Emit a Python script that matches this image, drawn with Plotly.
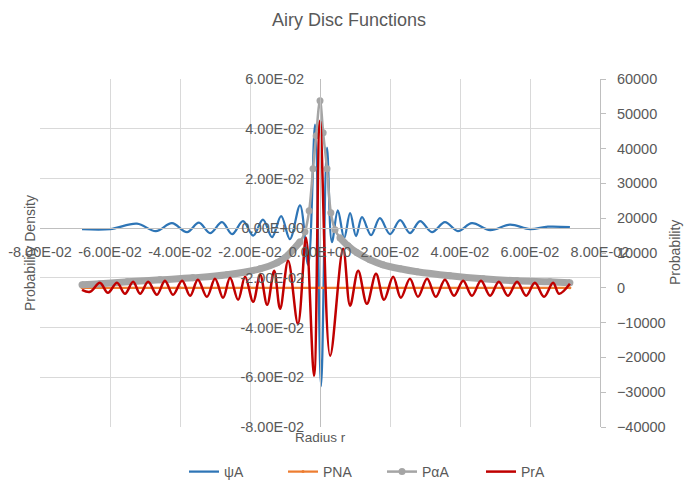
import plotly.graph_objects as go
import numpy as np

# ---------------- data ----------------
# psi_A : primary axis (probability density)
x_psi = [-0.0680, -0.0600, -0.0523, -0.0469, -0.0423, -0.0380, -0.0346, -0.0314,
         -0.0280, -0.0251, -0.0220, -0.0191, -0.0163, -0.0137, -0.0111, -0.0086,
         -0.0057, -0.0034, -0.0014, 0.0003, 0.0020, 0.0034, 0.0051, 0.0069,
         0.0086, 0.0103, 0.0120, 0.0146, 0.0171, 0.0200, 0.0229, 0.0257,
         0.0286, 0.0320, 0.0357, 0.0394, 0.0434, 0.0486, 0.0543, 0.0600,
         0.0651, 0.0714]
psi_A = [-0.0004, -0.0004, 0.0018, -0.0012, 0.0020, -0.0016, 0.0022, -0.0020,
         0.0024, -0.0024, 0.0028, -0.0030, 0.0034, -0.0036, 0.0048, -0.0044,
         0.0092, -0.0148, 0.0416, -0.0636, 0.0324, -0.0056, 0.0072, -0.0040,
         0.0060, -0.0032, 0.0044, -0.0028, 0.0040, -0.0024, 0.0032, -0.0020,
         0.0028, -0.0016, 0.0024, -0.0012, 0.0020, -0.0008, 0.0014, -0.0004,
         0.0006, 0.0004]

# P_rA : secondary axis
x_pr = [-0.0680, -0.0657, -0.0629, -0.0606, -0.0580, -0.0557, -0.0534, -0.0514,
        -0.0491, -0.0466, -0.0443, -0.0420, -0.0394, -0.0371, -0.0349, -0.0323,
        -0.0300, -0.0277, -0.0257, -0.0234, -0.0214, -0.0191, -0.0171, -0.0151,
        -0.0131, -0.0114, -0.0091, -0.0063, -0.0040, -0.0017, 0.0000, 0.0029,
        0.0066, 0.0086, 0.0109, 0.0134, 0.0160, 0.0183, 0.0209, 0.0231,
        0.0257, 0.0280, 0.0306, 0.0331, 0.0357, 0.0383, 0.0409, 0.0434,
        0.0460, 0.0486, 0.0511, 0.0537, 0.0563, 0.0589, 0.0614, 0.0640,
        0.0666, 0.0683, 0.0714]
pr_A = [-570, -1150, 1440, -1440, 1440, -1720, 1720, -1720,
        1720, -2010, 2010, -2010, 2010, -2300, 2300, -2590,
        2590, -2870, 2870, -3450, 3160, -4020, 3740, -4890,
        4890, -6040, 7760, -10350, 14370, -25290, 48000, -19540,
        11210, -5170, 4890, -4600, 4020, -3450, 3160, -2870,
        2590, -2590, 2590, -2590, 2300, -2300, 2010, -2300,
        2010, -2300, 1720, -2300, 1720, -2300, 1440, -2590,
        1440, -1720, 1150]

# P_alphaA : secondary axis
x_pa = [-0.0680, -0.0629, -0.0551, -0.0457, -0.0363, -0.0266, -0.0171, -0.0123,
        -0.0100, -0.0077, -0.0057, -0.0043, -0.0031, -0.0020, -0.0011, 0.0000,
        0.0009, 0.0020, 0.0031, 0.0043, 0.0057, 0.0080, 0.0106, 0.0143,
        0.0180, 0.0229, 0.0277, 0.0371, 0.0466, 0.0563, 0.0657, 0.0714]
pa_A = [860, 1150, 1720, 2300, 2870, 3740, 5460, 7190,
        8620, 10920, 13220, 16090, 22130, 34200, 43680, 53740,
        44550, 34200, 21550, 16670, 14370, 12070, 10060, 8050,
        6610, 5460, 4600, 3450, 2590, 2010, 1720, 1440]

# P_NA : secondary axis
x_pn = [-0.0680, -0.0400, -0.0200, 0.0000, 0.0200, 0.0400, 0.0714]
pn_A = [0, 0, 0, 0, 0, 0, 0]

# axis ticks
x_ticks = [-0.08, -0.06, -0.04, -0.02, 0.0, 0.02, 0.04, 0.06, 0.08]
x_ticktext = ["-8.00E-02", "-6.00E-02", "-4.00E-02", "-2.00E-02", "0.00E+00",
              "2.00E-02", "4.00E-02", "6.00E-02", "8.00E-02"]
y_ticks = [-0.08, -0.06, -0.04, -0.02, 0.0, 0.02, 0.04, 0.06]
y_ticktext = ["-8.00E-02", "-6.00E-02", "-4.00E-02", "-2.00E-02", "0.00E+00",
              "2.00E-02", "4.00E-02", "6.00E-02"]
y2_ticks = [-40000, -30000, -20000, -10000, 0, 10000, 20000, 30000, 40000, 50000, 60000]

# ---------------- figure ----------------
FONT = "Liberation Sans"
TXT = "#595959"
GRID = "#D9D9D9"
AXL = "#BFBFBF"

BLUE = "#2E75B6"
ORANGE = "#ED7D31"
GRAY = "#A5A5A5"
RED = "#C00000"

fig = go.Figure()

fig.add_trace(go.Scatter(x=x_psi, y=psi_A, name="ψA", mode="lines",
                         line=dict(color=BLUE, width=2.25, shape="spline", smoothing=1.0),
                         yaxis="y"))
fig.add_trace(go.Scatter(x=x_pn, y=pn_A, name="PNA", mode="lines+markers",
                         line=dict(color=ORANGE, width=2.25),
                         marker=dict(size=3, color=ORANGE),
                         yaxis="y2"))
# dense-marker band of PαA (same data drawn thick)
xa = np.array(x_pa)
ya = np.array(pa_A, dtype=float)
band = np.where(np.abs(xa) > 0.005, ya, np.nan)
fig.add_trace(go.Scatter(x=xa, y=band, mode="lines", showlegend=False,
                         hoverinfo="skip", connectgaps=False,
                         line=dict(color=GRAY, width=7, shape="spline", smoothing=1.0),
                         yaxis="y2"))
fig.add_trace(go.Scatter(x=x_pa, y=pa_A, name="PαA", mode="lines+markers",
                         line=dict(color=GRAY, width=2.5, shape="spline", smoothing=1.0),
                         marker=dict(size=7, color=GRAY),
                         yaxis="y2"))
fig.add_trace(go.Scatter(x=x_pr, y=pr_A, name="PrA", mode="lines",
                         line=dict(color=RED, width=2.5, shape="spline", smoothing=1.0),
                         yaxis="y2"))

fig.update_layout(
    width=684, height=495,
    margin=dict(l=40, r=84, t=79, b=68, autoexpand=False),
    paper_bgcolor="white", plot_bgcolor="white",
    font=dict(family=FONT, color=TXT, size=13),
    title=dict(text="Airy Disc Functions", x=349 / 684, xanchor="center",
               y=1 - 20 / 495, yanchor="middle",
               font=dict(family=FONT, size=18, color=TXT)),
    showlegend=True,
    legend=dict(orientation="h", x=(184 - 40) / 560, xanchor="left",
                y=(427 - 472) / 348, yanchor="middle",
                entrywidth=54, entrywidthmode="pixels",
                font=dict(family=FONT, size=14, color=TXT),
                bgcolor="rgba(0,0,0,0)"),
    xaxis=dict(range=[-0.08, 0.08], tickvals=x_ticks, ticktext=x_ticktext,
               showgrid=True, gridcolor=GRID, gridwidth=1, zeroline=False,
               showline=True, linecolor=AXL, linewidth=1,
               anchor="free", position=(427 - 228) / 348,
               ticks="", ticklabelstandoff=11,
               tickfont=dict(family=FONT, size=14.5, color=TXT)),
    yaxis=dict(range=[-0.08, 0.06], tickvals=y_ticks, ticktext=y_ticktext,
               showgrid=True, gridcolor=GRID, gridwidth=1, zeroline=False,
               showline=True, linecolor=AXL, linewidth=1,
               anchor="free", position=0.5, side="left",
               ticks="", ticklabelstandoff=13,
               tickfont=dict(family=FONT, size=14.5, color=TXT)),
    yaxis2=dict(range=[-40000, 60000], tickvals=y2_ticks, tickformat="d",
                overlaying="y", side="right", anchor="x",
                showgrid=False, zeroline=False,
                showline=True, linecolor=AXL, linewidth=1,
                ticks="outside", ticklen=5, tickcolor=AXL, ticklabelstandoff=8,
                tickfont=dict(family=FONT, size=14.5, color=TXT)),
)

fig.add_annotation(text="Probability Density", xref="paper", yref="paper",
                   x=(30 - 40) / 560, y=0.5, textangle=-90, showarrow=False,
                   xanchor="center", yanchor="middle",
                   font=dict(family=FONT, size=14, color=TXT))
fig.add_annotation(text="Probability", xref="paper", yref="paper",
                   x=(675 - 40) / 560, y=0.5, textangle=-90, showarrow=False,
                   xanchor="center", yanchor="middle",
                   font=dict(family=FONT, size=14, color=TXT))
fig.add_annotation(text="Radius r", xref="paper", yref="paper",
                   x=0.5, y=(427 - 437) / 348, showarrow=False,
                   xanchor="center", yanchor="middle",
                   font=dict(family=FONT, size=13.5, color=TXT))

fig.write_html("out.html", config={"displayModeBar": False},
               post_script="document.body.style.margin='0px';"
                           "document.body.style.overflow='hidden';")
